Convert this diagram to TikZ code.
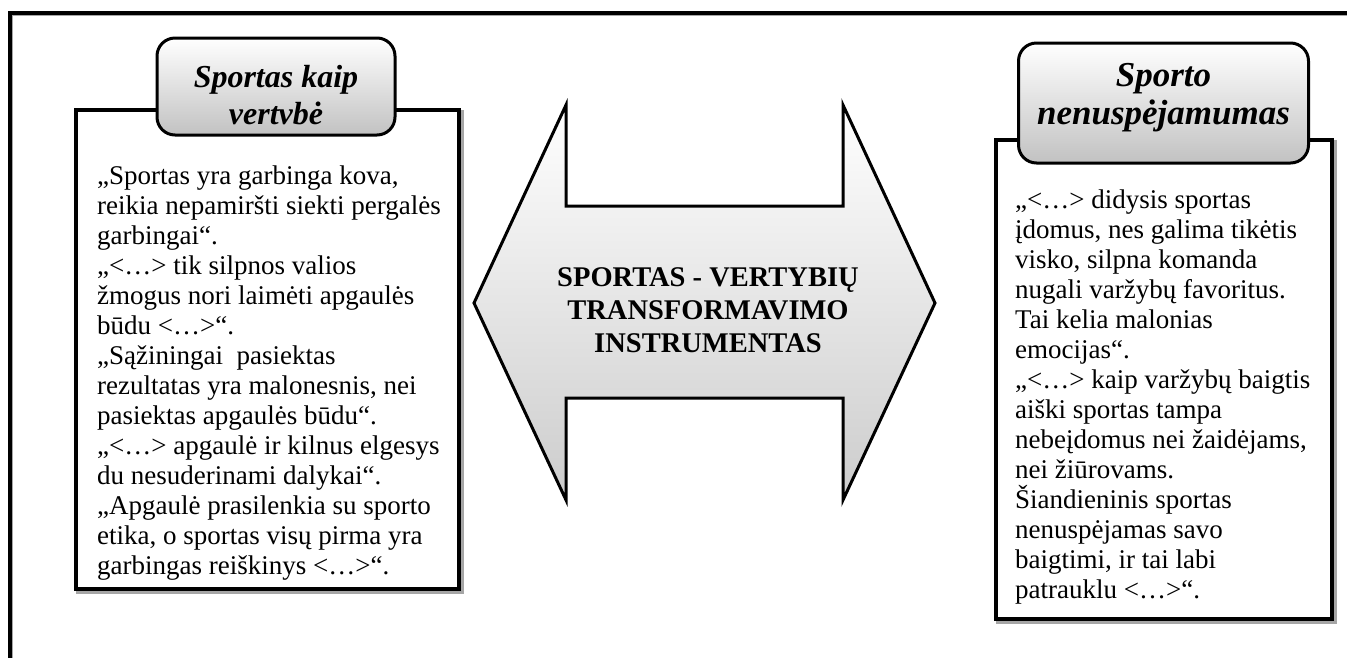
\documentclass[tikz,border=0pt]{standalone}
\usepackage{fontspec}
\setmainfont{Liberation Serif}
\begin{document}
\begin{tikzpicture}[x=1pt,y=-1pt,
  frameline/.style={line width=3.5pt,line cap=rect},
  shadowline/.style={draw=black!35,line width=3.5pt},
  quotebox/.style={draw,line width=3.5pt,fill=white,inner sep=0pt},
  titlebox/.style={draw,line width=3pt,rounded corners=18pt,top color=white,bottom color=black!24,
    inner sep=0pt},
  titletext/.style={inner sep=0pt,align=center,font=\bfseries\itshape},
  quotetext/.style={inner sep=0pt,align=left,anchor=north west,font=\fontsize{27}{30}\selectfont},
  bigarrow/.style={draw,line width=3pt,line join=miter,top color=white,bottom color=black!20},
  centertext/.style={inner sep=0pt,align=center,font=\fontsize{28.5}{33}\selectfont\bfseries}]
\useasboundingbox (0,0) rectangle (1347,657);
% outer frame (cut at right and bottom)
\coordinate (fb) at (10,660);
\coordinate (fc) at (10,13);
\coordinate (fr) at (1350,13);
\coordinate (sb) at (11.5,660);
\coordinate (sc) at (11.5,14.5);
\coordinate (sr) at (1350,14.5);
\draw[shadowline] (sb) -- (sc) -- (sr);
\draw[frameline] (fb) -- (fc) -- (fr);
% left panel
\node[quotebox,minimum width=383pt,minimum height=479pt] (leftbox) at (267.5,349.5) {};
\draw[shadowline] ([shift={(1.5,1.5)}]leftbox.north east) -- ([shift={(1.5,1.5)}]leftbox.south east)
  -- ([shift={(1.5,1.5)}]leftbox.south west);
\node[quotebox,minimum width=383pt,minimum height=479pt] at (leftbox) {};
\node[titlebox,minimum width=238pt,minimum height=97pt] (lefttitle) at (276,86.5) {};
\node[titletext,font=\fontsize{32}{37}\selectfont\bfseries\itshape] (lefttitletext) at (276,95) {Sportas kaip\\vertvbė};
\node[quotetext] (lefttext) at (97,166) {„Sportas yra garbinga kova,\\
reikia nepamiršti siekti pergalės\\
garbingai“.\\
„<…> tik silpnos valios\\
žmogus nori laimėti apgaulės\\
būdu <…>“.\\
„Sąžiningai\ \ pasiektas\\
rezultatas yra malonesnis, nei\\
pasiektas apgaulės būdu“.\\
„<…> apgaulė ir kilnus elgesys\\
du nesuderinami dalykai“.\\
„Apgaulė prasilenkia su sporto\\
etika, o sportas visų pirma yra\\
garbingas reiškinys <…>“.};
% right panel
\node[quotebox,minimum width=336pt,minimum height=479pt] (rightbox) at (1164,379.5) {};
\draw[shadowline] ([shift={(1.5,1.5)}]rightbox.north east) -- ([shift={(1.5,1.5)}]rightbox.south east)
  -- ([shift={(1.5,1.5)}]rightbox.south west);
\node[quotebox,minimum width=336pt,minimum height=479pt] at (rightbox) {};
\node[titlebox,minimum width=290pt,minimum height=120pt] (righttitle) at (1163.5,103) {};
\node[titletext,font=\fontsize{35}{38}\selectfont\bfseries\itshape] (righttitletext) at (1163.5,98) {Sporto\\nenuspėjamumas};
\node[quotetext] (righttext) at (1015,190) {„<…> didysis sportas\\
įdomus, nes galima tikėtis\\
visko, silpna komanda\\
nugali varžybų favoritus.\\
Tai kelia malonias\\
emocijas“.\\
„<…> kaip varžybų baigtis\\
aiški sportas tampa\\
nebeįdomus nei žaidėjams,\\
nei žiūrovams.\\
Šiandieninis sportas\\
nenuspėjamas savo\\
baigtimi, ir tai labi\\
patrauklu <…>“.};
% double arrow
\shade[bigarrow] (474,303) -- (566,105) -- (566,206) -- (843,206) -- (843,105) -- (935,303)
  -- (843,500) -- (843,398) -- (566,398) -- (566,500) -- cycle;
\node[centertext] (center) at (708,310) {SPORTAS - VERTYBIŲ\\TRANSFORMAVIMO\\INSTRUMENTAS};
\end{tikzpicture}
\end{document}
